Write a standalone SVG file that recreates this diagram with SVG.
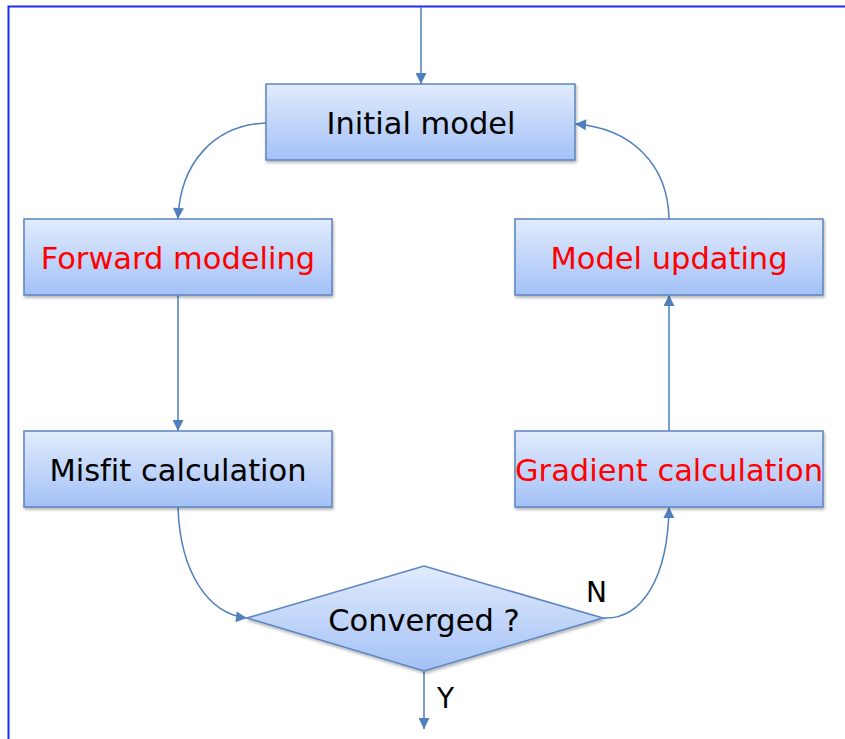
<svg xmlns="http://www.w3.org/2000/svg" width="845" height="739" viewBox="0 0 845 739">
<defs>
<linearGradient id="g" x1="0" y1="0" x2="0" y2="1">
<stop offset="0" stop-color="#e1ebfc"/>
<stop offset="1" stop-color="#a3c1f7"/>
</linearGradient>
<filter id="sh" x="-10%" y="-10%" width="120%" height="130%">
<feDropShadow dx="1" dy="2" stdDeviation="1.5" flood-color="#000" flood-opacity="0.3"/>
</filter>
<marker id="ah" viewBox="0 0 10 10" refX="10" refY="5" markerWidth="12" markerHeight="11" markerUnits="userSpaceOnUse" orient="auto">
<path d="M0,0 L10,5 L0,10 z" fill="#4f7fbd"/>
</marker>
<style>
.box{fill:url(#g);stroke:#5b84bf;stroke-width:1.5;filter:url(#sh)}
.t{font-family:"DejaVu Sans",Verdana,sans-serif;font-size:30.5px;text-anchor:middle;fill:#000;font-variant-ligatures:none}
.r{fill:#ff0000}
.c{fill:none;stroke:#4f7fbd;stroke-width:1.5;marker-end:url(#ah)}
.lbl{font-family:"DejaVu Sans",Verdana,sans-serif;font-size:28px;fill:#000}
</style>
</defs>
<rect width="845" height="739" fill="#fff"/>
<path d="M8.5,739 V6.5 H845" fill="none" stroke="#1a2cff" stroke-width="2"/>
<g id="connectors">
<path class="c" d="M421,7 V84"/>
<path class="c" d="M266,123 C215,125 180,162 178,219"/>
<path class="c" d="M178,295 V431"/>
<path class="c" d="M178,507 C180,572 208,614 247,618"/>
<path class="c" d="M603,618 C642,620 668,578 669,507"/>
<path class="c" d="M669,431 V295"/>
<path class="c" d="M669,219 C668,165 632,128 575,124"/>
<path class="c" d="M424,671 V729"/>
</g>
<g id="initial-model">
<rect class="box" x="266" y="84" width="309" height="76"/>
<text class="t" x="421" y="134">Initial model</text>
</g>
<g id="forward-modeling">
<rect class="box" x="24" y="219" width="308" height="76"/>
<text class="t r" x="178" y="269">Forward modeling</text>
</g>
<g id="model-updating">
<rect class="box" x="515" y="219" width="308" height="76"/>
<text class="t r" x="669" y="269">Model updating</text>
</g>
<g id="misfit-calculation">
<rect class="box" x="24" y="431" width="308" height="76"/>
<text class="t" x="178" y="481">Misfit calculation</text>
</g>
<g id="gradient-calculation">
<rect class="box" x="515" y="431" width="308" height="76"/>
<text class="t r" x="669" y="481">Gradient calculation</text>
</g>
<g id="converged">
<polygon class="box" points="247,618 424,566 603,618 424,671"/>
<text class="t" x="424" y="631">Converged ?</text>
</g>
<text class="lbl" x="586" y="602">N</text>
<text class="lbl" x="437" y="708">Y</text>
</svg>
